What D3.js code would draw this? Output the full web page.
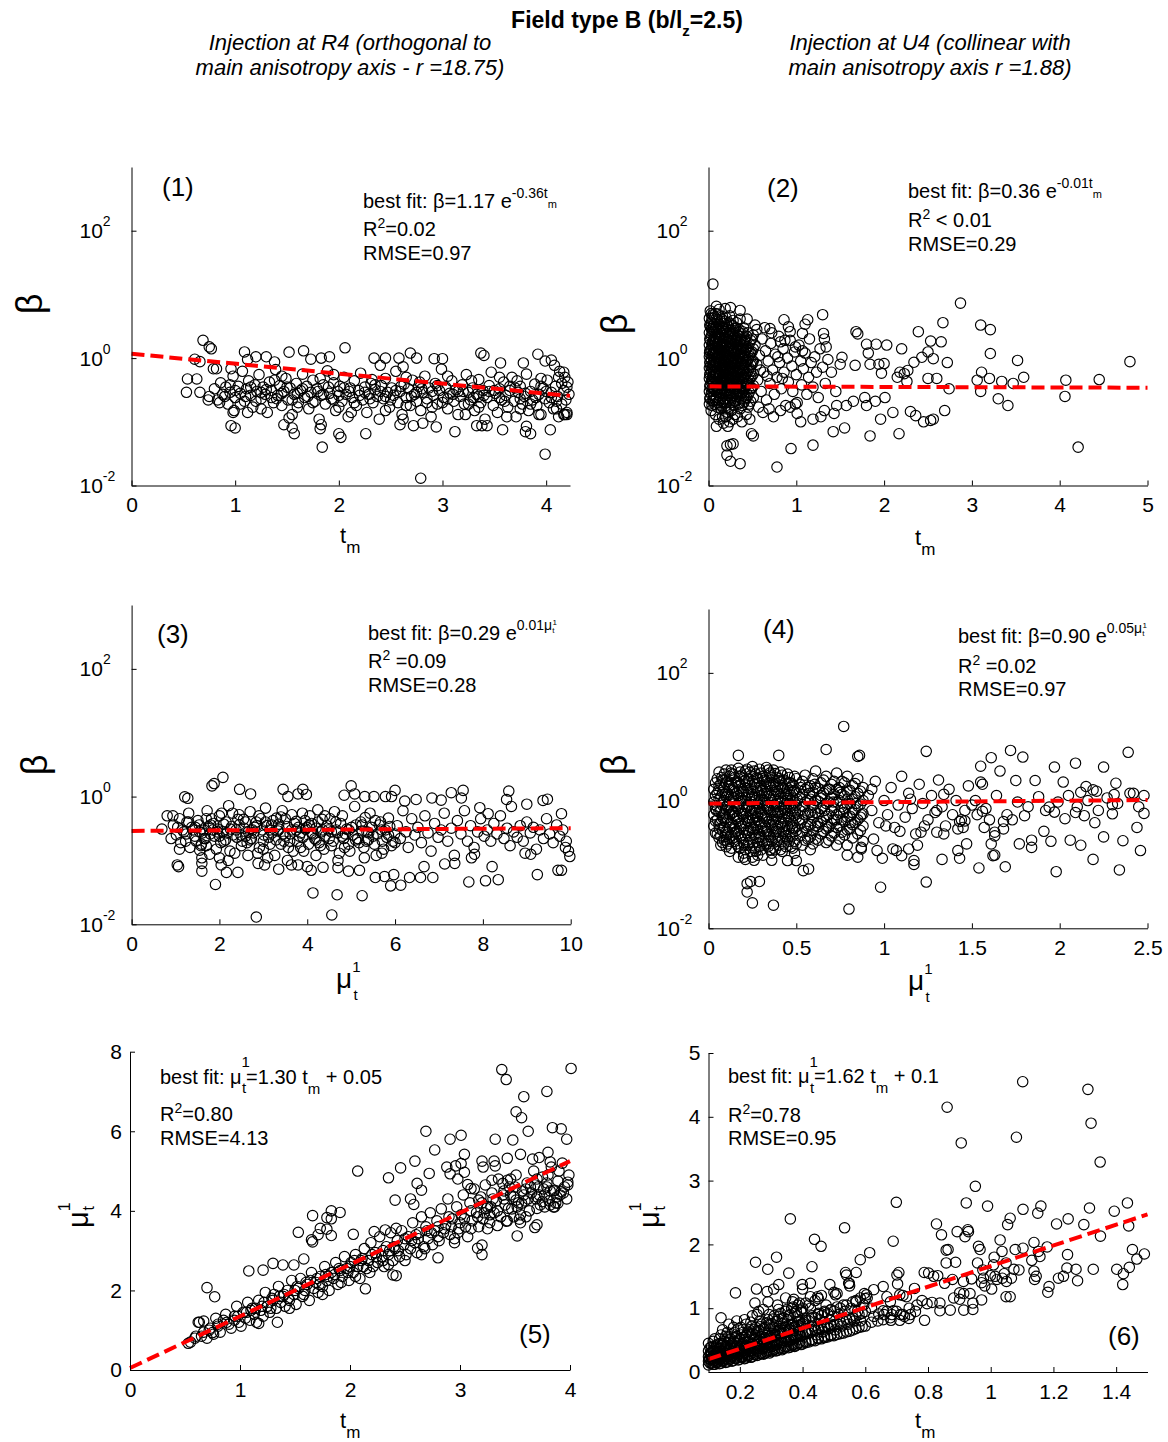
<!DOCTYPE html>
<html>
<head>
<meta charset="utf-8">
<script src="https://cdn.jsdelivr.net/npm/d3@7"></script>
<style>
  body { margin: 0; background: #fff; }
  text { font-family: Arial, "Liberation Sans", sans-serif; fill: #000; }
</style>
</head>
<body>
<div id="chart"></div>
<script>
// ---- data ----

// (1) beta vs t_m, injection at R4
const p1Scatter = [
  [0.69,1.9],[0.75,1.5],[0.77,1.4],[0.61,0.96],[0.66,0.88],[0.54,0.47],[0.63,0.47],[0.53,0.29],[0.66,0.29],[0.75,0.25],
  [0.74,0.22],[0.79,0.68],[0.82,0.68],[0.96,0.68],[0.99,0.15],[0.98,0.14],[0.96,0.087],[1.0,0.08],[1.09,1.25],[1.12,0.95],
  [1.2,1.05],[1.3,1.05],[1.38,0.87],[1.52,1.24],[1.66,1.3],[1.73,0.96],[1.83,1.0],[1.91,1.05],[2.06,1.45],[2.34,1.0],
  [2.45,1.0],[2.4,0.77],[2.58,1.0],[2.69,1.2],[2.75,1.0],[2.62,0.73],[2.92,0.98],[3.0,0.98],[3.37,1.2],[3.4,1.1],
  [3.56,0.84],[3.78,0.84],[3.92,1.15],[3.99,0.9],[4.05,0.93],[4.08,0.77],[4.17,0.6],[4.18,0.5],[4.17,0.13],[4.2,0.13],
  [4.12,0.12],[4.04,0.075],[3.99,0.031],[2.79,0.013],[1.84,0.04],[2.02,0.057],[2.0,0.065],[1.57,0.065],[1.55,0.08],[1.47,0.09],
  [1.82,0.078],[1.83,0.09],[2.26,0.065],[2.59,0.09],[2.72,0.087],[2.81,0.095],[2.94,0.083],[3.12,0.07],[3.33,0.087],[3.38,0.087],
  [3.43,0.087],[3.58,0.075],[3.8,0.07],[3.85,0.065],[3.81,0.085],[3.93,0.13],[4.2,0.14]
];
const p1Core = [
  [0.80,0.33],[0.83,0.22],[0.86,0.41],[0.88,0.27],[0.91,0.35],[0.93,0.19],[0.95,0.29],[0.98,0.52],[1.0,0.24],[1.03,0.36],
  [1.05,0.28],[1.07,0.62],[1.09,0.21],[1.11,0.33],[1.13,0.44],[1.15,0.26],[1.17,0.17],[1.19,0.38],[1.21,0.3],[1.23,0.55],
  [1.25,0.23],[1.27,0.35],[1.29,0.27],[1.31,0.14],[1.33,0.42],[1.35,0.31],[1.37,0.2],[1.39,0.66],[1.41,0.26],[1.43,0.37],
  [1.45,0.18],[1.47,0.3],[1.49,0.48],[1.51,0.22],[1.53,0.34],[1.55,0.13],[1.57,0.27],[1.59,0.4],[1.61,0.2],[1.63,0.31],
  [1.65,0.56],[1.67,0.24],[1.69,0.36],[1.71,0.16],[1.73,0.29],[1.75,0.45],[1.77,0.21],[1.79,0.33],[1.81,0.11],[1.83,0.26],
  [1.85,0.38],[1.87,0.19],[1.89,0.63],[1.91,0.28],[1.93,0.23],[1.95,0.41],[1.97,0.15],[1.99,0.3],[2.01,0.36],[2.03,0.21],
  [2.05,0.5],[2.07,0.27],[2.09,0.12],[2.11,0.34],[2.13,0.24],[2.15,0.44],[2.17,0.18],[2.19,0.31],[2.21,0.58],[2.23,0.22],
  [2.25,0.35],[2.27,0.14],[2.29,0.27],[2.31,0.4],[2.33,0.2],[2.35,0.32],[2.37,0.25],[2.39,0.11],[2.41,0.37],[2.43,0.23],
  [2.45,0.48],[2.47,0.29],[2.49,0.17],[2.51,0.34],[2.53,0.26],[2.55,0.62],[2.57,0.2],[2.59,0.3],[2.61,0.13],[2.63,0.39],
  [2.65,0.24],[2.67,0.33],[2.69,0.18],[2.71,0.45],[2.73,0.27],[2.75,0.21],[2.77,0.36],[2.79,0.15],[2.81,0.29],[2.83,0.52],
  [2.85,0.23],[2.87,0.34],[2.89,0.12],[2.91,0.26],[2.93,0.4],[2.95,0.19],[2.97,0.31],[2.99,0.67],[3.01,0.24],[3.03,0.35],
  [3.05,0.16],[3.07,0.28],[3.09,0.44],[3.11,0.21],[3.13,0.32],[3.15,0.13],[3.17,0.25],[3.19,0.38],[3.21,0.19],[3.23,0.55],
  [3.25,0.29],[3.27,0.22],[3.29,0.34],[3.31,0.15],[3.33,0.27],[3.35,0.46],[3.37,0.2],[3.39,0.31],[3.41,0.11],[3.43,0.24],
  [3.45,0.37],[3.47,0.6],[3.49,0.18],[3.51,0.28],[3.53,0.14],[3.55,0.33],[3.57,0.22],[3.59,0.42],[3.61,0.26],[3.63,0.17],
  [3.65,0.31],[3.67,0.5],[3.69,0.21],[3.71,0.12],[3.73,0.29],[3.75,0.36],[3.77,0.19],[3.79,0.25],[3.81,0.56],[3.83,0.15],
  [3.85,0.3],[3.87,0.22],[3.89,0.39],[3.91,0.18],[3.93,0.27],[3.95,0.13],[3.97,0.34],[3.99,0.23],[4.01,0.45],[4.03,0.2],
  [4.05,0.29],[4.07,0.16],[4.09,0.36],[4.11,0.25],[4.13,0.62],[4.15,0.19],[4.17,0.31],[4.19,0.22],[4.21,0.42],[4.22,0.27],
  [0.9,0.25],[1.0,0.31],[1.1,0.25],[1.2,0.21],[1.3,0.32],[1.4,0.23],[1.5,0.35],[1.6,0.28],[1.7,0.25],[1.8,0.3],
  [1.9,0.35],[2.0,0.26],[2.1,0.3],[2.2,0.26],[2.3,0.23],[2.4,0.3],[2.5,0.22],[2.6,0.36],[2.7,0.25],[2.8,0.33],
  [2.9,0.3],[3.0,0.2],[3.1,0.27],[3.2,0.3],[3.3,0.24],[3.4,0.26],[3.5,0.31],[3.6,0.21],[3.7,0.34],[3.8,0.28],
  [3.9,0.24],[4.0,0.3],[4.1,0.21],[4.2,0.35],[1.25,0.16],[1.6,0.17],[2.0,0.17],[2.45,0.15],[2.9,0.17],[3.35,0.17],
  [3.75,0.16],[4.1,0.16],[1.45,0.52],[1.95,0.55],[2.65,0.5],[3.05,0.52],[3.55,0.5],[3.95,0.48],
  [0.85,0.2],[0.95,0.38],[1.05,0.19],[1.15,0.35],[1.25,0.29],[1.35,0.24],[1.45,0.28],[1.55,0.22],[1.65,0.33],[1.75,0.2],
  [1.85,0.27],[1.95,0.22],[2.05,0.34],[2.15,0.2],[2.25,0.29],[2.35,0.38],[2.45,0.25],[2.55,0.31],[2.65,0.18],[2.75,0.29],
  [2.85,0.2],[2.95,0.37],[3.05,0.23],[3.15,0.3],[3.25,0.19],[3.35,0.25],[3.45,0.3],[3.55,0.24],[3.65,0.36],[3.75,0.23],
  [3.85,0.19],[3.95,0.36],[4.05,0.24],[4.15,0.4],[1.12,0.14],[1.52,0.115],[2.12,0.14],[2.62,0.11],[3.22,0.13],[3.62,0.12],
  [4.18,0.13],[1.38,0.45],[1.82,0.48],[2.32,0.46],[2.78,0.42],[3.28,0.44],[3.72,0.44],[4.12,0.5]
];

// (2) beta vs t_m, injection at U4
const p2Scatter = [
  [0.05,14.5],[0.09,6.5],[0.19,6.0],[0.25,6.2],[0.36,5.6],[0.03,5.0],[0.44,4.1],[0.53,3.3],[0.7,2.9],[0.86,4.0],
  [0.91,3.1],[1.13,4.0],[1.1,3.4],[1.3,4.8],[1.31,2.44],[1.32,2.0],[1.07,2.44],[0.82,1.8],[0.93,1.9],[1.34,1.5],
  [1.52,1.03],[1.68,2.6],[1.7,2.4],[1.8,1.65],[1.91,1.65],[2.03,1.6],[1.82,1.2],[1.84,0.8],[1.94,0.8],[2.0,0.82],
  [1.97,0.58],[1.67,0.77],[2.2,1.4],[2.34,0.86],[2.43,1.03],[2.5,1.25],[2.56,0.98],[2.39,2.6],[2.53,1.85],[2.65,1.8],
  [2.67,3.6],[2.72,0.85],[2.87,7.3],[2.18,0.6],[2.23,0.57],[2.27,0.64],[2.26,0.43],[2.15,0.5],[2.5,0.48],[2.6,0.48],
  [2.74,0.33],[3.1,3.3],[3.21,2.8],[3.21,1.18],[3.11,0.6],[3.06,0.45],[3.2,0.48],[3.34,0.43],[3.47,0.4],[3.59,0.5],
  [3.52,0.92],[3.1,0.3],[3.3,0.23],[3.41,0.18],[4.07,0.45],[4.06,0.25],[4.45,0.46],[4.8,0.88],[4.21,0.04],[0.78,0.0195],
  [0.25,0.024],[0.36,0.022],[0.21,0.03],[0.21,0.042],[0.25,0.044],[0.28,0.045],[0.94,0.038],[1.19,0.043],[0.51,0.06],[0.49,0.065],
  [0.19,0.12],[1.42,0.07],[1.55,0.08],[1.84,0.06],[2.17,0.065],[1.96,0.11],[2.45,0.1],[2.53,0.105],[2.56,0.11],[2.36,0.125],
  [2.3,0.145],[2.69,0.15],[2.1,0.14],[1.8,0.18],[1.78,0.24],[1.9,0.21],[2.01,0.24],[1.65,0.21],[1.57,0.18],[1.46,0.18],
  [1.43,0.135],[1.05,0.1],[1.19,0.11],[1.28,0.12],[1.32,0.15],[0.93,0.17],[1.01,0.135],[0.99,0.19],
  [0.53,1.6],[0.55,0.8],[0.56,0.45],[0.58,1.1],[0.6,0.3],[0.61,2.0],[0.63,0.6],[0.65,1.3],[0.66,0.22],[0.68,0.9],
  [0.7,0.4],[0.71,1.7],[0.73,0.65],[0.75,0.27],[0.76,1.15],[0.78,0.5],[0.8,2.2],[0.81,0.85],[0.83,0.33],[0.85,1.4],
  [0.86,0.6],[0.88,0.18],[0.9,1.0],[0.91,0.42],[0.93,2.6],[0.95,0.75],[0.96,0.3],[0.98,1.25],[1.0,0.55],[1.01,0.2],
  [1.03,1.6],[1.05,0.9],[1.06,0.38],[1.08,0.68],[1.1,1.2],[1.12,0.27],[1.14,0.5],[1.15,2.0],[1.17,0.85],[1.19,0.35],
  [1.21,1.05],[1.23,0.6],[1.25,0.24],[1.27,1.4],[1.3,0.72],[1.33,0.4],[1.36,0.95],[1.4,0.6],[1.45,0.3],[1.5,0.8],
  [0.57,0.17],[0.62,0.14],[0.69,0.16],[0.74,0.12],[0.82,0.15],[0.55,2.8],[0.64,3.0],[0.72,2.5],[0.87,1.9],[0.99,1.5],
  [1.07,1.3],[0.79,1.05],[0.67,0.52],[0.59,0.65],[0.84,0.48],
  [0.12,0.11],[0.17,0.095],[0.2,0.12],[0.24,0.1],[0.28,0.11],[0.33,0.12],[0.38,0.1],[0.43,0.13],[0.47,0.11],[0.09,0.085],[0.22,0.085],
  [0.012,1.2],[0.025,0.75],[0.035,2.9],[0.045,0.42],[0.052,1.45],[0.065,0.9],[0.072,2.2],[0.085,0.6],[0.095,1.65],[0.105,0.32],
  [0.115,1.05],[0.125,2.6],[0.135,0.55],[0.145,1.35],[0.155,0.8],[0.165,3.0],[0.175,0.42],[0.185,1.15],[0.195,0.68],[0.205,2.0],
  [0.215,0.38],[0.225,1.0],[0.235,0.58],[0.245,1.8],[0.255,0.34],[0.265,0.9],[0.275,2.4],[0.285,0.5],[0.295,1.3],[0.305,0.7],
  [0.315,0.28],[0.325,1.6],[0.335,0.45],[0.345,1.0],[0.355,0.62],[0.365,1.9],[0.375,0.35],[0.385,0.82],[0.395,1.4],[0.405,0.52],
  [0.42,1.05],[0.44,0.4],[0.46,1.3],[0.48,0.62],[0.5,0.9]
];
// dense cluster near t_m = 0: [t_m, [beta values]]
const p2Cluster = [
  [0.01,[4.2,2.5,1.6,1.05,0.7,0.48,0.3,0.19]],
  [0.02,[5.5,3.1,1.9,1.3,0.85,0.58,0.38,0.24]],
  [0.03,[3.6,2.2,1.4,0.95,0.62,0.42,0.27,0.15]],
  [0.05,[4.8,2.8,1.75,1.15,0.78,0.52,0.33,0.21]],
  [0.06,[3.3,2.0,1.25,0.88,0.6,0.4,0.25]],
  [0.08,[5.0,3.0,1.85,1.2,0.8,0.55,0.36,0.22,0.13]],
  [0.10,[4.0,2.4,1.5,1.0,0.68,0.45,0.29,0.17]],
  [0.12,[5.8,3.4,2.1,1.35,0.9,0.6,0.4,0.26]],
  [0.14,[3.8,2.3,1.45,0.98,0.65,0.43,0.28,0.16]],
  [0.16,[4.5,2.7,1.7,1.1,0.74,0.5,0.32,0.2,0.12]],
  [0.18,[3.5,2.1,1.3,0.86,0.57,0.37,0.23]],
  [0.20,[4.3,2.6,1.6,1.05,0.7,0.46,0.3,0.18]],
  [0.22,[3.2,1.95,1.25,0.82,0.54,0.35,0.22,0.14]],
  [0.24,[4.6,2.5,1.55,1.0,0.66,0.44,0.28]],
  [0.26,[3.4,2.0,1.3,0.85,0.56,0.37,0.24,0.15]],
  [0.28,[3.9,2.3,1.45,0.95,0.62,0.4,0.26]],
  [0.30,[2.9,1.8,1.15,0.76,0.5,0.33,0.21,0.13]],
  [0.32,[3.6,2.1,1.35,0.88,0.58,0.38,0.25]],
  [0.34,[2.6,1.6,1.05,0.7,0.46,0.3,0.19]],
  [0.36,[4.1,2.2,1.4,0.9,0.6,0.39,0.26,0.16]],
  [0.38,[2.4,1.5,0.98,0.64,0.42,0.28,0.18]],
  [0.40,[3.0,1.75,1.1,0.72,0.48,0.31,0.2]],
  [0.42,[2.0,1.3,0.85,0.55,0.36,0.23]],
  [0.45,[2.5,1.5,0.95,0.62,0.4,0.26,0.17]],
  [0.48,[1.9,1.2,0.78,0.5,0.33,0.21]],
  [0.51,[2.3,1.4,0.9,0.57,0.37,0.24]]
];
const p2Cluster2 = [
  [0.015,[3.3,2.0,1.3,0.85,0.55,0.36,0.23]],
  [0.04,[4.2,2.6,1.65,1.08,0.7,0.46,0.3,0.18]],
  [0.055,[3.0,1.9,1.2,0.8,0.52,0.34,0.22]],
  [0.07,[4.4,2.7,1.7,1.1,0.72,0.47,0.31,0.19]],
  [0.09,[3.2,2.0,1.3,0.85,0.56,0.37,0.24]],
  [0.11,[4.9,2.9,1.8,1.18,0.78,0.51,0.33,0.2]],
  [0.13,[3.1,1.95,1.25,0.82,0.54,0.35,0.22]],
  [0.15,[4.1,2.5,1.6,1.04,0.68,0.45,0.29,0.18]],
  [0.17,[2.9,1.85,1.2,0.78,0.5,0.33,0.21]],
  [0.19,[3.8,2.35,1.5,0.97,0.64,0.42,0.27,0.16]],
  [0.21,[2.8,1.75,1.12,0.73,0.48,0.31,0.2]],
  [0.23,[3.6,2.2,1.42,0.92,0.6,0.4,0.26,0.16]],
  [0.25,[2.7,1.7,1.1,0.72,0.47,0.31,0.2]],
  [0.27,[3.2,2.0,1.28,0.83,0.55,0.36,0.23]],
  [0.29,[2.5,1.6,1.02,0.67,0.44,0.29,0.18]],
  [0.31,[3.0,1.9,1.2,0.78,0.51,0.33,0.21]],
  [0.33,[2.3,1.45,0.94,0.62,0.41,0.27]],
  [0.35,[2.8,1.75,1.12,0.73,0.48,0.31,0.2]],
  [0.37,[2.0,1.28,0.84,0.55,0.36,0.23]],
  [0.39,[2.6,1.6,1.04,0.68,0.44,0.29]],
  [0.41,[1.9,1.2,0.78,0.51,0.33,0.21]],
  [0.435,[2.2,1.38,0.9,0.58,0.38,0.24]],
  [0.465,[1.7,1.08,0.7,0.45,0.29,0.19]],
  [0.495,[2.0,1.25,0.8,0.52,0.34]]
];

// (3) beta vs mu_t^1, injection at R4
const p3Scatter = [
  [2.08,2.0],[1.83,1.47],[1.88,1.6],[1.21,0.99],[1.28,0.94],[0.81,0.5],[0.94,0.5],[0.69,0.31],[0.9,0.22],[1.09,0.15],
  [1.04,0.085],[1.07,0.08],[1.91,0.042],[2.84,0.013],[4.56,0.014],[4.13,0.031],[4.68,0.029],[5.25,0.028],[2.46,1.3],[2.71,1.1],
  [3.45,1.3],[3.56,1.0],[3.79,1.1],[3.9,1.3],[3.98,1.08],[5.0,1.47],[4.84,1.05],[5.08,1.1],[5.31,1.0],[5.52,1.0],
  [5.78,1.0],[5.92,1.0],[6.0,1.25],[6.22,0.85],[6.48,0.9],[6.84,0.95],[7.05,0.88],[7.28,1.15],[7.55,1.25],[7.51,0.95],
  [7.93,0.67],[8.12,0.54],[8.59,1.22],[8.54,0.9],[8.65,0.7],[9.0,0.76],[9.37,0.87],[9.47,0.91],[9.79,0.54],[9.98,0.115],
  [9.88,0.16],[9.71,0.07],[9.79,0.07],[9.24,0.06],[9.09,0.125],[8.96,0.13],[8.35,0.05],[8.06,0.048],[7.68,0.046],[5.9,0.04],
  [6.13,0.041],[5.55,0.054],[5.76,0.056],[5.97,0.06],[6.86,0.054],[6.33,0.054],[6.58,0.054],[6.66,0.08],[7.13,0.088],[7.36,0.09],
  [7.74,0.11],[7.81,0.125],[8.21,0.08],[4.7,0.077],[4.94,0.068],[5.19,0.07],[4.09,0.07],[4.0,0.08],[4.36,0.078],[3.35,0.073],
  [3.64,0.085],[3.79,0.085],[2.88,0.09],[3.03,0.085],[2.42,0.065],[2.16,0.065],[1.6,0.068],[1.6,0.09],[1.55,0.145],[1.78,0.125],
  [2.0,0.11],[2.04,0.085],[1.59,0.18],[1.7,0.17]
];
const p3Core = [
  [0.95,0.36],[1.02,0.25],[1.09,0.45],[1.16,0.3],[1.23,0.2],[1.3,0.55],[1.37,0.33],[1.44,0.24],[1.51,0.42],[1.58,0.17],
  [1.65,0.3],[1.72,0.6],[1.79,0.26],[1.86,0.38],[1.93,0.15],[2.0,0.5],[2.07,0.28],[2.14,0.21],[2.21,0.72],[2.28,0.34],
  [2.35,0.13],[2.42,0.44],[2.49,0.25],[2.56,0.32],[2.63,0.19],[2.7,0.58],[2.77,0.27],[2.84,0.4],[2.91,0.16],[2.98,0.3],
  [3.05,0.66],[3.12,0.23],[3.19,0.36],[3.26,0.12],[3.33,0.29],[3.4,0.48],[3.47,0.2],[3.54,0.34],[3.61,0.26],[3.68,0.14],
  [3.75,0.41],[3.82,0.24],[3.89,0.55],[3.96,0.31],[4.03,0.18],[4.1,0.38],[4.17,0.22],[4.24,0.62],[4.31,0.28],[4.38,0.15],
  [4.45,0.35],[4.52,0.45],[4.59,0.2],[4.66,0.3],[4.73,0.13],[4.8,0.5],[4.87,0.26],[4.94,0.18],[5.01,0.33],[5.08,0.7],
  [5.15,0.22],[5.22,0.4],[5.29,0.16],[5.36,0.28],[5.43,0.55],[5.5,0.24],[5.57,0.12],[5.64,0.36],[5.71,0.2],[5.78,0.3],
  [5.85,0.46],[5.92,0.17],[5.99,0.26],
  [1.05,0.33],[1.12,0.19],[1.19,0.28],[1.26,0.4],[1.33,0.16],[1.4,0.3],[1.47,0.2],[1.54,0.36],[1.61,0.27],[1.68,0.22],
  [1.75,0.34],[1.82,0.45],[1.89,0.24],[1.96,0.31],[2.03,0.19],[2.1,0.37],[2.17,0.27],[2.24,0.14],[2.31,0.25],[2.38,0.3],
  [2.45,0.52],[2.52,0.2],[2.59,0.4],[2.66,0.28],[2.73,0.22],[2.8,0.33],[2.87,0.13],[2.94,0.45],[3.01,0.25],[3.08,0.35],
  [3.15,0.18],[3.22,0.42],[3.29,0.21],[3.36,0.31],[3.43,0.6],[3.5,0.24],[3.57,0.16],[3.64,0.3],[3.71,0.38],[3.78,0.2],
  [3.85,0.27],[3.92,0.14],[3.99,0.33],[4.06,0.5],[4.13,0.26],[4.2,0.32],[4.27,0.19],[4.34,0.44],[4.41,0.24],[4.48,0.3],
  [4.55,0.17],[4.62,0.58],[4.69,0.27],[4.76,0.38],[4.83,0.22],[4.9,0.31],[4.97,0.14],[5.04,0.25],[5.11,0.36],[5.18,0.19],
  [5.25,0.29],[5.32,0.47],[5.39,0.21],[5.46,0.33],[5.53,0.18],[5.6,0.26],[5.67,0.4],[5.74,0.15],[5.81,0.23],[5.88,0.34],
  [5.95,0.2],
  [1.55,0.28],[1.7,0.45],[1.85,0.3],[2.0,0.24],[2.15,0.4],[2.3,0.55],[2.45,0.36],[2.6,0.24],[2.75,0.3],[2.9,0.5],
  [3.05,0.4],[3.2,0.27],[3.35,0.37],[3.5,0.45],[3.65,0.52],[3.8,0.33],[3.95,0.42],[4.1,0.27],[4.25,0.4],[4.4,0.5],
  [4.55,0.28],[1.6,0.11],[2.2,0.1],[2.65,0.12],[3.1,0.11],[3.55,0.1],[4.2,0.12],[4.7,0.1],[5.3,0.11],[5.7,0.13],
  [1.25,0.26],[1.45,0.33],[1.65,0.22],[1.8,0.36],[1.95,0.28],[2.1,0.2],[2.25,0.31],[2.4,0.23],[2.55,0.44],[2.7,0.21],
  [2.85,0.35],[3.0,0.2],[3.15,0.3],[3.3,0.46],[3.45,0.26],[3.6,0.2],[3.75,0.3],[3.9,0.23],[4.05,0.36],[4.2,0.21],
  [4.35,0.3],[4.5,0.22],[4.65,0.4],[4.8,0.24],[4.95,0.3],[5.1,0.21],[5.25,0.36],[5.4,0.27],[5.55,0.42],[5.7,0.3],
  [5.85,0.25],[6.0,0.19],[1.3,0.4],[2.05,0.55],[2.5,0.17],[3.0,0.15],[3.4,0.18],[3.85,0.16],[4.3,0.17],[4.85,0.16],
  [5.35,0.2],
  [6.05,0.35],[6.12,0.22],[6.18,0.6],[6.25,0.28],[6.3,0.16],[6.38,0.45],[6.45,0.25],[6.52,0.33],[6.6,0.19],[6.68,0.5],
  [6.75,0.27],[6.82,0.14],[6.9,0.38],[6.98,0.23],[7.05,0.3],[7.12,0.55],[7.2,0.2],[7.28,0.32],[7.35,0.12],[7.42,0.42],
  [7.5,0.26],[7.58,0.6],[7.65,0.2],[7.72,0.35],[7.8,0.16],[7.88,0.28],[7.95,0.45],[8.03,0.24],[8.1,0.3],[8.18,0.2],
  [8.25,0.38],[8.32,0.26],[8.4,0.5],[8.48,0.22],[8.55,0.32],[8.62,0.17],[8.7,0.28],[8.78,0.23],[8.85,0.35],[8.92,0.2],
  [9.0,0.4],[9.08,0.27],[9.15,0.33],[9.22,0.15],[9.3,0.3],[9.38,0.22],[9.45,0.45],[9.52,0.26],[9.6,0.19],[9.68,0.36],
  [9.75,0.24],[9.82,0.3],[9.9,0.2],[9.95,0.14]
];

// (4) beta vs mu_t^1, injection at U4
const p4Scatter = [
  [0.77,14.5],[0.17,5.1],[0.40,5.1],[0.67,6.3],[0.86,5.1],[0.85,4.9],[1.24,5.9],[1.72,6.1],[1.79,4.8],[1.61,4.7],
  [2.39,5.7],[2.09,3.85],[2.25,3.35],[1.97,3.35],[1.55,3.45],[1.66,2.9],[1.75,2.06],[1.86,2.06],[2.02,1.95],[2.32,1.87],
  [1.55,1.95],[1.56,1.8],[2.15,1.66],[2.19,1.47],[2.21,1.4],[2.42,1.3],[2.48,1.2],[2.12,1.35],[2.31,1.24],[2.3,0.86],
  [2.3,0.62],[2.48,0.63],[2.44,0.38],[2.46,0.165],[2.36,0.235],[2.25,0.27],[2.34,0.082],[2.19,0.12],[2.12,0.2],[2.06,0.24],
  [1.98,0.077],[1.95,0.23],[1.91,0.33],[1.97,0.66],[1.94,0.79],[2.09,0.65],[2.14,0.58],[1.84,0.24],[1.84,0.185],[1.77,0.21],
  [1.69,0.092],[1.54,0.088],[1.62,0.137],[1.63,0.14],[1.61,0.21],[1.63,0.28],[1.63,0.32],[1.68,0.47],[1.6,0.5],[1.57,0.38],
  [1.53,0.6],[1.56,0.68],[1.43,0.47],[1.45,0.38],[1.47,0.21],[1.42,0.165],[1.43,0.125],[1.24,0.053],[0.98,0.044],[0.80,0.02],
  [0.37,0.023],[0.25,0.025],[0.22,0.037],[0.24,0.054],[0.29,0.054],[0.22,0.05],[1.33,0.12],[1.17,0.115],[1.17,0.1],[1.1,0.137],
  [1.14,0.175],[1.19,0.2],[0.96,0.165],[0.99,0.125],[1.05,0.175],[1.07,0.165],[1.21,0.32],[1.3,0.32],[1.34,0.3],[0.94,0.25],
  [0.87,0.185],[0.87,0.175],[0.79,0.14],[0.85,0.13],[0.54,0.08],[0.57,0.085],[0.5,0.115],[0.45,0.115],[0.36,0.116],[0.2,0.13],
  [0.26,0.116],
  [0.91,1.2],[0.93,0.7],[0.95,2.0],[0.97,0.45],[1.0,1.0],[1.02,0.6],[1.04,1.6],[1.06,0.38],[1.08,0.85],[1.1,2.4],
  [1.12,0.55],[1.14,1.3],[1.16,0.75],[1.18,0.3],[1.2,1.8],[1.22,0.9],[1.25,0.5],[1.27,1.2],[1.29,0.65],[1.31,2.1],
  [1.33,0.8],[1.35,0.4],[1.37,1.5],[1.39,0.6],[1.41,1.0],[1.44,0.5],[1.46,0.7],[1.48,1.7],[1.5,0.85],[0.93,1.5],
  [1.01,0.4],[1.09,0.33],[1.15,1.05],[1.23,0.4],[1.3,0.7],[1.34,1.25],[1.42,0.36],[1.46,0.48],
  [1.52,1.0],[1.58,0.75],[1.64,1.2],[1.7,0.6],[1.76,0.95],[1.82,0.8],[1.88,1.15],[1.92,0.7],[1.99,0.95],[2.05,1.2],
  [2.1,0.8],[2.16,1.0],[2.22,0.7],[2.27,1.1],[2.33,0.9],[2.4,1.3],[2.45,0.8],[1.68,0.36],[1.73,0.5],[1.8,0.58],
  [2.03,0.52],[2.2,0.45],
  [0.045,0.7],[0.058,1.45],[0.062,0.36],[0.075,2.3],[0.083,0.95],[0.087,0.52],[0.095,1.25],[0.102,0.24],[0.108,0.82],[0.118,1.7],
  [0.123,0.43],[0.128,2.7],[0.138,0.66],[0.142,1.12],[0.152,0.31],[0.158,1.9],[0.163,0.56],[0.172,0.9],[0.177,2.4],[0.183,0.37],
  [0.192,1.35],[0.197,0.6],[0.203,0.2],[0.208,2.05],[0.216,0.8],[0.224,1.55],[0.228,0.47],[0.236,2.8],[0.242,0.7],[0.247,1.15],
  [0.256,0.36],[0.262,1.8],[0.268,0.55],[0.274,2.3],[0.282,0.92],[0.288,0.27],[0.294,1.45],[0.303,0.62],[0.308,2.2],[0.316,1.0],
  [0.322,0.4],[0.328,1.65],[0.336,0.75],[0.343,0.24],[0.348,2.5],[0.356,1.2],[0.362,0.5],[0.368,1.9],[0.376,0.85],[0.383,0.33],
  [0.388,1.4],[0.396,0.65],[0.404,2.2],[0.412,0.95],[0.418,0.45],[0.425,1.6],[0.433,0.72],[0.44,0.28],[0.448,1.25],[0.455,0.55],
  [0.462,1.9],[0.47,0.85],[0.478,0.38],[0.486,1.4],[0.495,0.66],[0.505,1.05],[0.515,0.5],[0.525,1.6],[0.545,0.8],[0.56,0.33],
  [0.575,1.3],[0.59,0.6],[0.605,1.8],[0.62,0.45],[0.64,1.1],[0.66,0.7],[0.675,0.4],[0.69,1.5],[0.71,0.95],[0.73,0.5],
  [0.75,1.35],[0.77,0.65],[0.79,1.05],[0.81,0.45],[0.84,0.9],[0.87,0.6]
];
const p4Cluster = [
  [0.03,[1.5,0.95,0.6,0.4]],
  [0.05,[2.2,1.3,0.8,0.5,0.3]],
  [0.07,[1.8,1.1,0.7,0.45,0.28,0.2]],
  [0.09,[2.6,1.6,1.0,0.62,0.38,0.24]],
  [0.11,[2.0,1.25,0.78,0.5,0.32,0.21]],
  [0.13,[3.0,1.8,1.15,0.72,0.45,0.28,0.18]],
  [0.15,[2.3,1.4,0.9,0.58,0.36,0.23]],
  [0.17,[3.2,1.9,1.2,0.75,0.48,0.3,0.19,0.13]],
  [0.19,[2.5,1.55,1.0,0.63,0.4,0.25]],
  [0.21,[2.9,1.75,1.1,0.7,0.44,0.28,0.17,0.12]],
  [0.23,[2.2,1.35,0.85,0.54,0.34,0.22]],
  [0.25,[3.4,2.0,1.25,0.8,0.5,0.32,0.2,0.13]],
  [0.27,[2.6,1.6,1.0,0.64,0.4,0.26,0.16]],
  [0.29,[3.1,1.9,1.2,0.75,0.47,0.3,0.19]],
  [0.31,[2.4,1.45,0.92,0.58,0.37,0.23,0.14]],
  [0.33,[3.3,2.0,1.3,0.82,0.52,0.33,0.21]],
  [0.35,[2.7,1.65,1.05,0.66,0.42,0.27,0.17]],
  [0.37,[3.0,1.8,1.15,0.72,0.46,0.29,0.18]],
  [0.39,[2.3,1.4,0.9,0.57,0.36,0.23]],
  [0.41,[2.8,1.7,1.08,0.68,0.43,0.27,0.17]],
  [0.43,[2.1,1.3,0.82,0.52,0.33,0.21]],
  [0.45,[2.6,1.55,1.0,0.63,0.4,0.25]],
  [0.47,[1.9,1.2,0.76,0.48,0.3,0.19]],
  [0.49,[2.4,1.45,0.92,0.58,0.37,0.23,0.15]],
  [0.52,[1.8,1.1,0.7,0.44,0.28]],
  [0.55,[2.5,1.5,0.95,0.6,0.38,0.24]],
  [0.58,[1.7,1.05,0.66,0.42,0.27,0.17]],
  [0.61,[2.9,1.6,1.0,0.64,0.4,0.25]],
  [0.64,[1.9,1.2,0.75,0.47,0.3]],
  [0.67,[2.4,1.45,0.9,0.57,0.36,0.22]],
  [0.70,[1.8,1.1,0.7,0.44,0.28]],
  [0.73,[2.7,1.5,0.95,0.6,0.38,0.2]],
  [0.76,[2.0,1.25,0.8,0.5,0.32]],
  [0.79,[2.4,1.4,0.88,0.55,0.35,0.2]],
  [0.82,[1.7,1.05,0.65,0.42,0.26]],
  [0.85,[2.2,1.3,0.82,0.5,0.3]],
  [0.88,[1.6,1.0,0.62,0.4,0.23]]
];
const p4Cluster2 = [
  [0.04,[1.9,1.2,0.75,0.48,0.31]],
  [0.06,[2.8,1.7,1.05,0.66,0.42,0.26]],
  [0.08,[2.1,1.35,0.85,0.55,0.34,0.22]],
  [0.10,[3.0,1.9,1.15,0.72,0.46,0.29,0.19]],
  [0.12,[2.4,1.5,0.95,0.6,0.38,0.25,0.16]],
  [0.14,[2.6,1.6,1.02,0.65,0.41,0.26]],
  [0.16,[2.0,1.28,0.82,0.52,0.33,0.21]],
  [0.18,[2.8,1.75,1.1,0.7,0.44,0.28,0.18]],
  [0.20,[2.2,1.38,0.88,0.56,0.35,0.22,0.15]],
  [0.22,[3.1,1.95,1.22,0.78,0.49,0.31,0.2]],
  [0.24,[2.45,1.5,0.96,0.6,0.38,0.25,0.16]],
  [0.26,[2.9,1.8,1.12,0.71,0.45,0.29,0.18]],
  [0.28,[2.2,1.4,0.88,0.56,0.35,0.22,0.14]],
  [0.30,[2.7,1.7,1.06,0.68,0.43,0.27,0.17]],
  [0.32,[2.1,1.3,0.83,0.53,0.33,0.21]],
  [0.34,[3.0,1.85,1.16,0.74,0.47,0.3,0.19]],
  [0.36,[2.3,1.45,0.92,0.58,0.37,0.23,0.15]],
  [0.38,[2.65,1.65,1.04,0.66,0.41,0.26,0.17]],
  [0.40,[2.05,1.28,0.8,0.51,0.32,0.2]],
  [0.42,[2.5,1.55,0.98,0.62,0.39,0.25,0.16]],
  [0.44,[1.95,1.22,0.77,0.49,0.31,0.19]],
  [0.46,[2.3,1.42,0.9,0.57,0.36,0.23]],
  [0.48,[1.75,1.1,0.7,0.44,0.28,0.18]],
  [0.50,[2.2,1.35,0.85,0.54,0.34,0.21]],
  [0.535,[2.0,1.25,0.8,0.5,0.32,0.2]],
  [0.565,[1.6,1.0,0.63,0.4,0.25]],
  [0.595,[2.2,1.35,0.85,0.54,0.34,0.21]],
  [0.625,[1.55,0.98,0.62,0.39,0.24]],
  [0.655,[2.1,1.3,0.82,0.52,0.33]],
  [0.685,[1.5,0.95,0.6,0.38,0.24]],
  [0.715,[2.0,1.25,0.78,0.5,0.31]],
  [0.745,[1.6,1.0,0.64,0.4,0.25]],
  [0.775,[1.9,1.18,0.74,0.47,0.29]],
  [0.805,[1.45,0.9,0.57,0.36]],
  [0.835,[1.85,1.15,0.72,0.45]],
  [0.865,[1.4,0.88,0.55,0.34]]
];

// (5) mu_t^1 vs t_m, injection at R4
const p5Scatter = [
  [4.01,7.58],[3.38,7.55],[3.42,7.3],[3.79,7.0],[3.58,6.87],[3.51,6.49],[3.56,6.34],[3.62,6.0],[3.84,6.09],[3.92,6.06],
  [3.97,5.8],[3.32,5.8],[3.48,5.78],[2.69,6.0],[2.91,5.8],[3.01,5.9],[2.77,5.53],[3.04,5.42],[2.59,5.25],[2.46,5.08],
  [2.07,5.0],[2.35,4.83],[2.72,4.94],[2.65,4.52],[2.61,4.69],[2.41,4.27],[2.55,4.3],[2.58,4.16],[2.88,5.1],[2.96,5.13],
  [3.01,5.19],[2.91,4.93],[2.98,4.8],[3.04,4.97],[3.2,5.25],[3.21,5.1],[3.31,5.25],[3.32,5.13],[3.43,5.32],[3.55,5.42],
  [3.66,5.3],[3.72,5.34],[3.8,5.47],[3.82,5.23],[3.43,4.77],[3.46,4.8],[3.29,4.77],[3.39,4.69],[3.98,4.72],[3.92,4.48],
  [3.86,4.52],[3.79,4.6],[3.68,4.65],[3.72,4.4],[3.62,4.3],[3.51,4.27],[3.56,4.19],[3.75,4.23],[3.82,4.15],[3.89,4.19],
  [3.7,4.06],[3.77,4.1],[3.86,4.1],[3.44,4.06],[3.49,3.85],[3.54,3.79],[3.6,3.85],[3.68,3.58],[3.7,3.65],[3.52,3.37],
  [3.34,3.63],[3.42,3.74],[3.2,3.14],[3.16,3.06],[3.2,2.9],[2.8,2.82],[2.42,2.37],[2.39,2.39],[2.14,2.04],[3.27,3.9],
  [3.24,4.06],[3.17,4.27],[3.1,4.56],[3.07,4.66],[1.83,4.0],[1.91,3.96],[1.66,3.88],[1.83,3.8],[1.79,3.83],[1.53,3.46],
  [1.66,3.22],[1.65,3.27],[1.71,3.4],[1.73,3.56],[1.79,3.54],[1.83,3.38],[2.03,3.41],[2.22,3.48],[2.32,3.52],[2.42,3.56],
  [1.08,2.49],[1.21,2.51],[1.3,2.68],[1.39,2.64],[1.49,2.64],[1.58,2.79],[0.7,2.07],[0.77,1.84],[0.59,0.8],[0.53,0.67],
  [0.67,1.23],[0.62,1.2],[0.75,0.94],[1.34,1.2],[1.17,1.17]
];
const p5Core = [
  [0.55,0.7],[0.6,0.85],[0.63,1.2],[0.67,0.95],[0.7,0.8],[0.73,1.05],[0.76,0.9],[0.78,1.3],[0.8,1.1],[0.82,0.95],
  [0.85,1.25],[0.87,1.4],[0.9,1.15],[0.92,1.05],[0.95,1.35],[0.97,1.6],[0.99,1.2],[1.01,1.1],[1.03,1.45],[1.05,1.3],
  [1.07,1.7],[1.09,1.25],[1.11,1.55],[1.13,1.4],[1.15,1.2],[1.17,1.75],[1.19,1.5],[1.21,1.35],[1.23,1.95],[1.25,1.6],
  [1.27,1.45],[1.29,1.8],[1.31,1.9],[1.33,1.55],[1.35,2.1],[1.37,1.7],[1.39,1.85],[1.41,1.6],[1.43,2.0],[1.45,1.75],
  [1.47,2.25],[1.49,1.9],[1.51,1.65],[1.53,2.05],[1.55,2.3],[1.57,1.85],[1.59,2.0],[1.61,2.15],[1.63,1.75],[1.65,2.45],
  [1.67,2.05],[1.69,2.2],[1.71,1.95],[1.73,2.35],[1.75,2.1],[1.77,2.6],[1.79,2.25],[1.81,2.0],[1.83,2.45],[1.85,2.3],
  [1.87,2.7],[1.89,2.15],[1.91,2.5],[1.93,2.35],[1.95,2.85],[1.97,2.55],[1.99,2.25],[2.01,2.7],[2.03,2.45],[2.05,2.9],
  [2.07,2.6],[2.09,2.3],[2.11,2.8],[2.13,3.05],[2.15,2.55],[2.17,2.75],[2.19,3.2],[2.21,2.6],[2.23,2.95],[2.25,2.7],
  [2.27,3.35],[2.29,2.85],[2.31,2.6],[2.33,3.1],[2.35,2.9],[2.37,3.45],[2.39,2.75],[2.41,3.05],[2.43,3.25],[2.45,2.85],
  [2.47,3.5],[2.49,3.15],[2.51,2.9],[2.53,3.35],[2.55,3.05],[2.57,3.7],[2.59,3.2],[2.61,2.95],[2.63,3.45],[2.65,3.85],
  [2.67,3.1],[2.69,3.6],[2.71,3.3],[2.73,3.95],[2.75,3.15],[2.77,3.5],[2.79,3.75],[2.81,3.25],[2.83,4.05],[2.85,3.45],
  [2.87,3.65],[2.89,4.3],[2.91,3.4],[2.93,3.8],[2.95,3.2],[2.97,4.1],[2.99,3.55],[3.01,3.9],[3.03,4.4],[3.05,3.6],
  [3.07,3.35],[3.09,4.2],[3.11,3.75],[3.13,4.55],[3.15,3.95],[3.17,3.6],[3.19,4.35],[3.21,3.8],[3.23,4.65],[3.25,4.1],
  [3.27,3.7],[3.29,4.45],[3.31,3.95],[3.33,4.25],[3.35,4.8],[3.37,3.85],[3.39,4.4],[3.41,4.15],[3.43,3.75],[3.45,4.6],
  [3.47,4.05],[3.49,4.35],[3.51,4.9],[3.53,4.2],[3.55,3.9],[3.57,4.5],[3.59,4.25],[3.61,4.7],[3.63,4.0],[3.65,4.45],
  [3.67,5.0],[3.69,4.3],[3.71,4.6],[3.73,4.15],[3.75,4.85],[3.77,4.4],[3.79,4.7],[3.81,4.25],[3.83,5.1],[3.85,4.5],
  [3.87,4.2],[3.89,4.75],[3.91,4.4],[3.93,5.2],[3.95,4.6],[3.97,4.3],[3.99,4.9],
  [0.95,1.25],[1.1,1.5],[1.2,1.6],[1.3,1.75],[1.4,1.9],[1.5,2.0],[1.6,2.2],[1.7,2.3],[1.8,2.35],[1.9,2.55],
  [2.0,2.6],[2.1,2.75],[2.2,2.9],[2.3,3.0],[2.4,3.1],[2.5,3.3],[2.6,3.4],[2.7,3.5],[2.8,3.6],[2.9,3.85],
  [3.0,3.7],[3.1,4.0],[3.2,4.2],[3.3,4.3],[3.4,4.5],[3.5,4.6],[3.6,4.55],[3.7,4.8],[3.8,4.9],[3.9,5.0],
  [1.45,1.55],[1.75,1.9],[2.05,2.35],[2.35,2.65],[2.65,2.9],[2.95,3.3],[3.25,3.55],[3.55,3.7],[3.85,4.1],
  [0.65,0.85],[0.72,1.0],[0.8,1.15],[0.88,1.2],[0.98,1.35],[1.06,1.45],[1.14,1.55],[1.22,1.7],[1.28,1.55],[1.36,1.85],
  [1.44,1.8],[1.52,2.1],[1.58,1.9],[1.64,2.25],[1.72,2.15],[1.78,2.4],[1.86,2.4],[1.92,2.2],[1.98,2.45],[2.04,2.75],
  [2.12,2.6],[2.18,2.45],[2.24,2.85],[2.3,2.75],[2.36,3.0],[2.44,3.0],[2.5,2.75],[2.56,3.25],[2.62,3.3],[2.68,3.05],
  [2.74,3.45],[2.8,3.35],[2.86,3.55],[2.92,3.6],[2.98,3.45],[3.04,3.8],[3.1,3.55],[3.16,3.85],[3.22,3.95],[3.28,4.1],
  [3.34,4.0],[3.4,4.3],[3.46,4.4],[3.52,4.1],[3.58,4.4],[3.64,4.6],[3.7,4.35],[3.76,4.55],[3.82,4.5],[3.88,4.35],
  [3.94,4.45],[3.98,4.65]
];

// (6) mu_t^1 vs t_m, injection at U4
const p6Scatter = [
  [1.102,4.55],[1.31,4.43],[0.861,4.15],[1.32,3.9],[0.906,3.59],[1.082,3.68],[1.349,3.29],[0.951,2.91],[0.699,2.66],[0.922,2.65],
  [0.99,2.6],[1.16,2.6],[1.15,2.49],[1.103,2.55],[1.062,2.41],[1.054,2.31],[1.315,2.57],[1.394,2.52],[1.436,2.65],[1.44,2.29],
  [1.35,2.13],[1.297,2.31],[1.247,2.4],[1.21,2.32],[1.452,1.92],[1.49,1.85],[1.466,1.77],[1.402,1.61],[1.423,1.54],[1.442,1.64],
  [1.421,1.37],[1.327,1.61],[1.272,1.61],[1.243,1.63],[1.245,1.84],[1.232,1.5],[1.216,1.47],[1.277,1.43],[1.186,1.34],[1.182,1.25],
  [1.14,1.45],[1.145,1.5],[1.138,1.58],[1.157,1.81],[1.131,1.75],[1.152,1.89],[1.18,1.96],[1.138,2.03],[1.103,1.94],[1.078,1.92],
  [1.049,1.71],[1.074,1.61],[1.043,1.54],[1.09,1.6],[1.062,1.18],[1.049,1.18],[1.05,1.42],[1.066,1.47],[1.037,1.47],[1.02,1.45],
  [1.014,1.5],[0.999,1.51],[1.03,2.07],[1.011,1.8],[1.009,1.68],[1.036,1.89],[0.958,1.71],[0.975,1.6],[0.966,1.92],[0.961,1.97],
  [0.918,2.12],[0.929,2.2],[0.927,2.23],[0.893,2.2],[0.843,2.15],[0.858,1.91],[0.864,1.92],[0.827,2.32],[0.858,1.71],[0.888,1.72],
  [0.831,1.51],[0.818,1.5],[0.802,1.55],[0.788,1.56],[0.853,1.39],[0.878,1.45],[0.913,1.42],[0.939,1.46],[0.971,1.4],[0.977,1.47],
  [0.981,1.35],[1.003,1.3],[0.934,1.23],[0.914,1.23],[0.901,1.24],[0.971,1.13],[0.943,1.08],[0.901,1.14],[0.882,1.16],[0.838,1.08],
  [0.813,1.09],[0.797,1.07],[0.781,1.12],[0.765,1.05],[0.943,0.98],[0.914,0.97],[0.871,0.97],[0.838,0.96],[0.789,0.81],[0.757,1.31],
  [0.731,1.18],[0.71,1.21],[0.703,1.38],[0.701,1.52],[0.707,1.56],[0.689,2.05],[0.614,1.87],[0.584,1.76],[0.571,1.56],[0.55,1.35],
  [0.547,1.39],[0.537,1.56],[0.54,1.52],[0.534,2.26],[0.459,1.97],[0.438,2.08],[0.361,2.4],[0.317,1.8],[0.289,1.61],[0.25,1.72],
  [0.43,1.65],[0.356,1.55],[0.186,1.24],[0.253,1.3],[0.287,1.26],[0.324,1.37],[0.308,1.3],[0.248,1.08],[0.399,1.37],[0.425,1.39],
  [0.487,1.37],[0.51,1.23],[0.505,1.21],[0.549,1.39],[0.425,1.18],[0.448,1.18],[0.372,1.14],[0.346,1.16],[0.584,1.16],[0.597,1.23],
  [0.627,1.29],[0.657,1.34],[0.669,1.18],[0.571,1.1],[0.657,0.96],[0.669,0.95],[0.689,0.96],[0.657,0.82],[0.682,0.81],[0.71,0.81],
  [0.627,0.87],[0.643,0.91],[0.685,0.9],[0.712,0.9],[0.725,0.87],[0.739,0.84],[0.744,0.9],[0.606,1.16],[0.604,1.21],
  [0.62,0.78],[0.62,1.0],[0.64,0.8],[0.66,0.9],[0.68,0.85],[0.68,1.1],[0.70,0.95],[0.72,0.9],[0.72,1.2],[0.74,1.0],[0.76,0.95],
  [0.102,0.2],[0.107,0.3],[0.112,0.22],[0.118,0.4],[0.123,0.18],[0.127,0.33],[0.132,0.24],[0.138,0.45],[0.142,0.27],[0.147,0.19],
  [0.152,0.37],[0.158,0.28],[0.162,0.55],[0.168,0.22],[0.172,0.41],[0.178,0.31],[0.183,0.62],[0.188,0.25],[0.193,0.45],[0.198,0.34],
  [0.203,0.7],[0.208,0.27],[0.213,0.5],[0.218,0.37],[0.224,0.28],[0.229,0.55],[0.233,0.4],[0.238,0.72],[0.243,0.31],[0.249,0.58],
  [0.253,0.44],[0.258,0.33],[0.263,0.8],[0.268,0.47],[0.273,0.36],[0.278,0.62],[0.284,0.5],[0.288,0.38],[0.293,0.9],[0.298,0.53],
  [0.303,0.4],[0.308,0.7],[0.313,0.57],[0.318,0.43],[0.323,0.98],[0.328,0.6],[0.333,0.46],[0.338,0.76],[0.343,0.62],[0.348,0.48],
  [0.353,0.82],[0.358,0.66],[0.363,0.5],[0.368,1.1],[0.373,0.7],[0.378,0.53],[0.383,0.88],[0.388,0.73],[0.394,0.56],[0.398,0.94],
  [0.404,0.78],[0.415,0.6],[0.425,1.0],[0.435,0.72],[0.445,0.58],[0.455,0.82],[0.465,0.63],[0.475,1.05],[0.485,0.68],[0.495,0.87],
  [0.505,0.66],[0.515,0.9],[0.525,0.72],[0.535,0.95],[0.545,0.75],[0.555,1.0],[0.565,0.8],[0.575,0.95],[0.585,0.8],[0.595,1.05]
];
const p6Cluster = [
  [0.10,[0.11,0.17,0.24,0.33,0.45]],
  [0.11,[0.14,0.21,0.29,0.4]],
  [0.12,[0.12,0.19,0.27,0.37,0.52]],
  [0.13,[0.16,0.23,0.32,0.44]],
  [0.14,[0.14,0.21,0.3,0.41,0.58,0.85]],
  [0.15,[0.18,0.26,0.35,0.48]],
  [0.16,[0.16,0.24,0.33,0.45,0.62]],
  [0.17,[0.2,0.28,0.38,0.52]],
  [0.18,[0.18,0.26,0.36,0.48,0.7]],
  [0.19,[0.22,0.31,0.42,0.56,0.8]],
  [0.20,[0.2,0.29,0.39,0.52]],
  [0.21,[0.24,0.33,0.45,0.62]],
  [0.22,[0.22,0.31,0.42,0.57,0.75]],
  [0.23,[0.26,0.36,0.48,0.66]],
  [0.24,[0.24,0.34,0.45,0.6,0.88]],
  [0.25,[0.28,0.39,0.52,0.7]],
  [0.26,[0.27,0.37,0.49,0.65,0.95]],
  [0.27,[0.3,0.42,0.56,0.75]],
  [0.28,[0.29,0.4,0.53,0.7]],
  [0.29,[0.33,0.45,0.6,0.82,1.1]],
  [0.30,[0.32,0.43,0.57,0.76]],
  [0.31,[0.35,0.48,0.64,0.88]],
  [0.32,[0.34,0.46,0.61,0.8,1.05]],
  [0.33,[0.38,0.51,0.68,0.92]],
  [0.34,[0.37,0.49,0.65,0.85]],
  [0.35,[0.4,0.54,0.72,0.98]],
  [0.36,[0.39,0.52,0.69,0.9]],
  [0.37,[0.43,0.57,0.76,1.02]],
  [0.38,[0.42,0.55,0.72,0.95]],
  [0.39,[0.46,0.6,0.8,1.08]],
  [0.40,[0.44,0.58,0.76,1.0,1.3]],
  [0.41,[0.48,0.63,0.84]],
  [0.42,[0.47,0.62,0.8,1.05]],
  [0.43,[0.51,0.66,0.88]],
  [0.44,[0.49,0.65,0.85,1.12]],
  [0.45,[0.53,0.69,0.92]],
  [0.46,[0.52,0.68,0.88,1.2]],
  [0.47,[0.56,0.72,0.95]],
  [0.48,[0.55,0.71,0.91]],
  [0.49,[0.58,0.75,0.98]],
  [0.50,[0.57,0.74,0.95,1.25]],
  [0.52,[0.6,0.78,1.0]],
  [0.54,[0.63,0.82,1.05]],
  [0.56,[0.66,0.85,1.1]],
  [0.58,[0.7,0.9]],
  [0.60,[0.72,0.95,1.15]]
];
const p6Cluster2 = [
  [0.105,[0.14,0.2,0.28,0.38]],
  [0.115,[0.12,0.17,0.25,0.34,0.48]],
  [0.125,[0.15,0.22,0.3,0.41]],
  [0.135,[0.13,0.19,0.27,0.37,0.52]],
  [0.145,[0.17,0.24,0.33,0.45,0.66]],
  [0.155,[0.15,0.22,0.3,0.41,0.56]],
  [0.165,[0.19,0.27,0.36,0.5,0.75]],
  [0.175,[0.17,0.24,0.33,0.45,0.6]],
  [0.185,[0.21,0.29,0.39,0.53]],
  [0.195,[0.19,0.27,0.36,0.49,0.68]],
  [0.205,[0.23,0.32,0.43,0.58]],
  [0.215,[0.21,0.3,0.4,0.54,0.82]],
  [0.225,[0.25,0.35,0.46,0.62]],
  [0.235,[0.23,0.33,0.44,0.59,0.78]],
  [0.245,[0.27,0.37,0.5,0.67]],
  [0.255,[0.26,0.36,0.47,0.63,0.9]],
  [0.265,[0.29,0.4,0.53,0.71]],
  [0.275,[0.28,0.38,0.51,0.68,0.98]],
  [0.285,[0.31,0.43,0.57,0.77]],
  [0.295,[0.3,0.41,0.55,0.73]],
  [0.305,[0.34,0.46,0.61,0.83]],
  [0.315,[0.33,0.44,0.59,0.79]],
  [0.325,[0.36,0.49,0.65,0.87]],
  [0.335,[0.35,0.47,0.62,0.83]],
  [0.345,[0.39,0.52,0.7,0.95]],
  [0.355,[0.38,0.5,0.67,0.88]],
  [0.365,[0.41,0.55,0.73,1.0]],
  [0.375,[0.4,0.54,0.71,0.92]],
  [0.385,[0.44,0.58,0.78,1.05]],
  [0.395,[0.43,0.57,0.75,0.97]],
  [0.41,[0.46,0.61,0.81,1.08]],
  [0.43,[0.49,0.64,0.85]],
  [0.45,[0.52,0.67,0.9,1.15]],
  [0.47,[0.54,0.7,0.93]],
  [0.49,[0.57,0.73,0.97]],
  [0.51,[0.59,0.76,1.02]],
  [0.53,[0.61,0.8,1.05]],
  [0.55,[0.64,0.83]],
  [0.57,[0.68,0.88,1.12]],
  [0.59,[0.71,0.92]]
];

// fit coefficients: exp fits [a, b] -> a*e^(b*x); linear fits [slope, intercept]
const fitP1 = [1.17, -0.36];
const fitP2 = [0.36, -0.01];
const fitP3 = [0.29, 0.01];
const fitP4 = [0.90, 0.05];
const fitP5 = [1.30, 0.05];
const fitP6 = [1.62, 0.04];

// tick values
const logTicks = [0.01, 1, 100];
const ticksP1x = [0, 1, 2, 3, 4];
const ticksP2x = [0, 1, 2, 3, 4, 5];
const ticksP3x = [0, 2, 4, 6, 8, 10];
const ticksP4x = [0, 0.5, 1, 1.5, 2, 2.5];
const ticksP5x = [0, 1, 2, 3, 4];
const ticksP5y = [0, 2, 4, 6, 8];
const ticksP6x = [0.2, 0.4, 0.6, 0.8, 1, 1.2, 1.4];
const ticksP6y = [0, 1, 2, 3, 4, 5];

const unfold = (cols) => cols.flatMap(([x, ys]) => ys.map((y) => [x, y]));

// ---- layout ----
const svg = d3.select('#chart')
  .append('svg')
  .attr('width', 1168)
  .attr('height', 1442);

const expFit = (c) => (x) => c[0] * Math.exp(c[1] * x);
const linFit = (c) => (x) => c[0] * x + c[1];

const panels = [
  { points: p1Scatter.concat(p1Core), left: 131.5, right: 570, top: 167, bottom: 485.5,
    xDomain: [0, 4.23], yDomain: [0.01, 1000], log: true, xTicks: ticksP1x,
    fit: expFit(fitP1) },
  { points: p2Scatter.concat(unfold(p2Cluster), unfold(p2Cluster2)), left: 708.5, right: 1147.5, top: 167, bottom: 485.5,
    xDomain: [0, 5], yDomain: [0.01, 1000], log: true, xTicks: ticksP2x,
    fit: expFit(fitP2) },
  { points: p3Scatter.concat(p3Core), left: 131.6, right: 570.7, top: 605, bottom: 924.3,
    xDomain: [0, 10], yDomain: [0.01, 1000], log: true, xTicks: ticksP3x,
    fit: expFit(fitP3) },
  { points: p4Scatter.concat(unfold(p4Cluster), unfold(p4Cluster2)), left: 708.5, right: 1147.5, top: 609, bottom: 928.3,
    xDomain: [0, 2.5], yDomain: [0.01, 1000], log: true, xTicks: ticksP4x,
    fit: expFit(fitP4) },
  { points: p5Scatter.concat(p5Core), left: 130, right: 570, top: 1051.7, bottom: 1370,
    xDomain: [0, 4], yDomain: [0, 8], log: false, xTicks: ticksP5x, yTicks: ticksP5y,
    fit: linFit(fitP5) },
  { points: p6Scatter.concat(unfold(p6Cluster), unfold(p6Cluster2)), left: 708.5, right: 1147.5, top: 1053, bottom: 1372,
    xDomain: [0.1, 1.5], yDomain: [0, 5], log: false, xTicks: ticksP6x, yTicks: ticksP6y,
    fit: linFit(fitP6) }
];

// text with tspans; each part has an absolute baseline offset
function richText(parent, x, y, size, parts) {
  const t = parent.append('text')
    .attr('x', x)
    .attr('y', y)
    .attr('font-size', size + 'px');
  let off = 0;
  parts.forEach((p) => {
    const o = p.off || 0;
    const ts = t.append('tspan').attr('dy', o - off).text(p.t);
    if (p.size) ts.attr('font-size', p.size + 'px');
    if (p.dx) ts.attr('dx', p.dx);
    off = o;
  });
  return t;
}

const plainFormat = d3.format('');

panels.forEach((p) => {
  const x = d3.scaleLinear().domain(p.xDomain).range([p.left, p.right]);
  const y = (p.log ? d3.scaleLog() : d3.scaleLinear()).domain(p.yDomain).range([p.bottom, p.top]);

  const g = svg.append('g');

  // circles
  g.append('g')
    .selectAll('circle')
    .data(p.points)
    .enter()
    .append('circle')
    .attr('cx', (d) => x(d[0]))
    .attr('cy', (d) => y(d[1]))
    .attr('r', 5.2)
    .attr('fill', 'none')
    .attr('stroke', '#000')
    .attr('stroke-width', 1.15);

  // fitted curve
  const fx = p.xDomain;
  g.append('path')
    .datum([[fx[0], p.fit(fx[0])], [fx[1], p.fit(fx[1])]])
    .attr('d', d3.line().x((d) => x(d[0])).y((d) => y(d[1])))
    .attr('fill', 'none')
    .attr('stroke', '#ff0000')
    .attr('stroke-width', 4)
    .attr('stroke-dasharray', '13,6');

  // x axis
  const xAxis = g.append('g')
    .attr('transform', 'translate(0,' + p.bottom + ')')
    .call(d3.axisBottom(x).tickValues(p.xTicks).tickSizeInner(-5).tickSizeOuter(0)
      .tickPadding(12).tickFormat(plainFormat));
  xAxis.selectAll('text').attr('font-size', '21px').attr('font-family', 'Arial, "Liberation Sans", sans-serif');

  // y axis
  if (p.log) {
    g.append('g')
      .attr('transform', 'translate(' + p.left + ',0)')
      .call(d3.axisLeft(y).tickValues(logTicks).tickSizeInner(-5).tickSizeOuter(0).tickFormat(() => ''));
    logTicks.forEach((v) => {
      const exp = Math.round(Math.log10(v));
      richText(g, p.left - 52, y(v) + 7.5, 21, [
        { t: '10' },
        { t: String(exp), size: 14, off: -12 }
      ]);
    });
  } else {
    const yAxis = g.append('g')
      .attr('transform', 'translate(' + p.left + ',0)')
      .call(d3.axisLeft(y).tickValues(p.yTicks).tickSizeInner(-5).tickSizeOuter(0).tickPadding(8)
        .tickFormat(plainFormat));
    yAxis.selectAll('text').attr('font-size', '21px').attr('font-family', 'Arial, "Liberation Sans", sans-serif');
  }
  g.selectAll('.domain').attr('stroke', '#000');
  g.selectAll('.tick line').attr('stroke', '#000');
});

// ---- titles ----
richText(svg, 627, 28, 23, [
  { t: 'Field type B (b/l' },
  { t: 'z', size: 15, off: 8 },
  { t: '=2.5)', off: 0 }
]).attr('text-anchor', 'middle').attr('font-weight', 'bold');

const subtitles = [
  [350, 50, 'Injection at R4 (orthogonal to'],
  [350, 75, 'main anisotropy axis - r =18.75)'],
  [930, 50, 'Injection at U4 (collinear with'],
  [930, 75, 'main anisotropy axis r =1.88)']
];
subtitles.forEach(([sx, sy, s]) => {
  svg.append('text').attr('x', sx).attr('y', sy).attr('text-anchor', 'middle')
    .attr('font-size', '22px').attr('font-style', 'italic').text(s);
});

// ---- axis labels ----
const betaLabels = [[29, 304], [614, 324], [34, 765], [614, 765]];
betaLabels.forEach(([cx, cy]) => {
  svg.append('text')
    .attr('transform', 'translate(' + cx + ',' + cy + ') rotate(-90)')
    .attr('text-anchor', 'middle')
    .attr('dominant-baseline', 'central')
    .attr('font-size', '36px')
    .text('β');
});

// t_m under panels 1, 2, 5, 6
[[340, 543], [915, 545], [340, 1428], [915, 1428]].forEach(([lx, ly]) => {
  richText(svg, lx, ly, 22, [
    { t: 't' },
    { t: 'm', size: 17, off: 10 }
  ]);
});

// mu_t^1 under panels 3, 4
[[336, 988], [908, 990]].forEach(([lx, ly]) => {
  richText(svg, lx, ly, 28, [
    { t: 'μ' },
    { t: '1', size: 15, off: -16 },
    { t: 't', size: 15, off: 12, dx: -7 }
  ]);
});

// rotated mu_t^1 beside panels 5, 6
[[88, 1228], [659, 1228]].forEach(([lx, ly]) => {
  const lg = svg.append('g').attr('transform', 'translate(' + lx + ',' + ly + ') rotate(-90)');
  richText(lg, 0, 0, 29, [
    { t: 'μ' },
    { t: '1', size: 16, off: -18 },
    { t: 't', size: 16, off: 6, dx: -8 }
  ]);
});

// ---- panel annotations ----
const ann = svg.append('g');
const tagSize = 26;
const annSize = 20;

ann.append('text').attr('x', 162).attr('y', 196).attr('font-size', tagSize + 'px').text('(1)');
richText(ann, 363, 208, annSize, [{ t: 'best fit: β=1.17 e' }, { t: '-0.36t', size: 14, off: -10 }, { t: 'm', size: 11, off: 0 }]);
richText(ann, 363, 236, annSize, [{ t: 'R' }, { t: '2', size: 14, off: -8 }, { t: '=0.02', off: 0 }]);
ann.append('text').attr('x', 363).attr('y', 260).attr('font-size', annSize + 'px').text('RMSE=0.97');

ann.append('text').attr('x', 767).attr('y', 197).attr('font-size', tagSize + 'px').text('(2)');
richText(ann, 908, 198, annSize, [{ t: 'best fit: β=0.36 e' }, { t: '-0.01t', size: 14, off: -10 }, { t: 'm', size: 11, off: 0 }]);
richText(ann, 908, 227, annSize, [{ t: 'R' }, { t: '2', size: 14, off: -8 }, { t: ' < 0.01', off: 0 }]);
ann.append('text').attr('x', 908).attr('y', 251).attr('font-size', annSize + 'px').text('RMSE=0.29');

ann.append('text').attr('x', 157).attr('y', 643).attr('font-size', tagSize + 'px').text('(3)');
richText(ann, 368, 640, annSize, [{ t: 'best fit: β=0.29 e' }, { t: '0.01μ', size: 14, off: -10 }, { t: 't', size: 8, off: -7 }, { t: '1', size: 8, off: -15, dx: -2 }]);
richText(ann, 368, 668, annSize, [{ t: 'R' }, { t: '2', size: 14, off: -8 }, { t: ' =0.09', off: 0 }]);
ann.append('text').attr('x', 368).attr('y', 692).attr('font-size', annSize + 'px').text('RMSE=0.28');

ann.append('text').attr('x', 763).attr('y', 638).attr('font-size', tagSize + 'px').text('(4)');
richText(ann, 958, 643, annSize, [{ t: 'best fit: β=0.90 e' }, { t: '0.05μ', size: 14, off: -10 }, { t: 't', size: 8, off: -7 }, { t: '1', size: 8, off: -15, dx: -2 }]);
richText(ann, 958, 673, annSize, [{ t: 'R' }, { t: '2', size: 14, off: -8 }, { t: ' =0.02', off: 0 }]);
ann.append('text').attr('x', 958).attr('y', 696).attr('font-size', annSize + 'px').text('RMSE=0.97');

ann.append('text').attr('x', 519).attr('y', 1343).attr('font-size', tagSize + 'px').text('(5)');
richText(ann, 160, 1084, annSize, [{ t: 'best fit: μ' }, { t: '1', size: 15, off: -17 }, { t: 't', size: 15, off: 9, dx: -8 }, { t: '=1.30 t', off: 0 }, { t: 'm', size: 15, off: 10 }, { t: ' + 0.05', off: 0 }]);
richText(ann, 160, 1121, annSize, [{ t: 'R' }, { t: '2', size: 14, off: -8 }, { t: '=0.80', off: 0 }]);
ann.append('text').attr('x', 160).attr('y', 1145).attr('font-size', annSize + 'px').text('RMSE=4.13');

ann.append('text').attr('x', 1108).attr('y', 1345).attr('font-size', tagSize + 'px').text('(6)');
richText(ann, 728, 1083, annSize, [{ t: 'best fit: μ' }, { t: '1', size: 15, off: -16 }, { t: 't', size: 15, off: 10, dx: -8 }, { t: '=1.62 t', off: 0 }, { t: 'm', size: 15, off: 10 }, { t: ' + 0.1', off: 0 }]);
richText(ann, 728, 1122, annSize, [{ t: 'R' }, { t: '2', size: 14, off: -8 }, { t: '=0.78', off: 0 }]);
ann.append('text').attr('x', 728).attr('y', 1145).attr('font-size', annSize + 'px').text('RMSE=0.95');
</script>
</body>
</html>
